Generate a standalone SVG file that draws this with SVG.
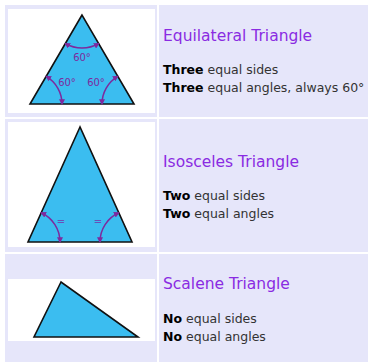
<svg xmlns="http://www.w3.org/2000/svg" width="368" height="362" viewBox="0 0 368 362">
<defs>
<marker id="ah" viewBox="0 0 10 10" refX="8" refY="5" markerWidth="6" markerHeight="6" orient="auto-start-reverse" markerUnits="userSpaceOnUse">
<path d="M0,0 L10,5 L0,10 z" fill="#7d2a9e"/>
</marker>
</defs>
<style>
.cell{fill:#e6e6fa}
.pic{fill:#ffffff}
.tri{fill:#3bbdf0;stroke:#111;stroke-width:1.6;stroke-linejoin:miter}
.arc{fill:none;stroke:#7d2a9e;stroke-width:1.5;marker-start:url(#ah);marker-end:url(#ah)}
.ang{font-family:"DejaVu Sans",Verdana,sans-serif;font-size:10px;fill:#7d2a9e;text-anchor:middle}
.eq{font-family:"DejaVu Sans",Verdana,sans-serif;font-size:10px;fill:#6a4fb8;text-anchor:middle}
.title{font-family:"DejaVu Sans",Verdana,sans-serif;font-size:15.5px;fill:#8a2be2}
.body{font-family:"DejaVu Sans",Verdana,sans-serif;font-size:12.5px;fill:#333}
.b{font-weight:bold;fill:#000}
</style>
<rect width="368" height="362" fill="#ffffff"/>
<g id="equilateral">
<rect class="cell" x="5" y="5" width="152" height="112"/>
<rect class="cell" x="159" y="5" width="209" height="112"/>
<rect class="pic" x="8" y="9" width="147" height="104"/>
<polygon class="tri" points="82,15 30,104 134,104"/>
<path class="arc" d="M65.3,43.5 A33,33 0 0 0 98.7,43.5"/>
<path class="arc" d="M46.2,76.4 A32,32 0 0 1 62,104"/>
<path class="arc" d="M117.8,76.4 A32,32 0 0 0 102,104"/>
<text class="ang" x="82" y="60.5">60°</text>
<text class="ang" x="67" y="86">60°</text>
<text class="ang" x="96" y="86">60°</text>
<text class="title" x="163" y="40.5">Equilateral Triangle</text>
<text class="body" x="163" y="74"><tspan class="b">Three</tspan> equal sides</text>
<text class="body" x="163" y="92"><tspan class="b">Three</tspan> equal angles, always 60°</text>
</g>
<g id="isosceles">
<rect class="cell" x="5" y="119" width="152" height="133"/>
<rect class="cell" x="159" y="119" width="209" height="133"/>
<rect class="pic" x="8" y="122" width="147" height="125"/>
<polygon class="tri" points="80,127 28,242 132,242"/>
<path class="arc" d="M41.2,212.8 A32,32 0 0 1 60,242"/>
<path class="arc" d="M118.8,212.8 A32,32 0 0 0 100,242"/>
<text class="eq" x="61" y="224.5">=</text>
<text class="eq" x="98" y="224.5">=</text>
<text class="title" x="163" y="166.5">Isosceles Triangle</text>
<text class="body" x="163" y="199.5"><tspan class="b">Two</tspan> equal sides</text>
<text class="body" x="163" y="217.5"><tspan class="b">Two</tspan> equal angles</text>
</g>
<g id="scalene">
<rect class="cell" x="5" y="254" width="152" height="108"/>
<rect class="cell" x="159" y="254" width="209" height="108"/>
<rect class="pic" x="8" y="279" width="147" height="62"/>
<polygon class="tri" points="61,282 34,337 138,337"/>
<text class="title" x="163" y="289">Scalene Triangle</text>
<text class="body" x="163" y="323"><tspan class="b">No</tspan> equal sides</text>
<text class="body" x="163" y="341"><tspan class="b">No</tspan> equal angles</text>
</g>
<g id="connectors"/>
</svg>
